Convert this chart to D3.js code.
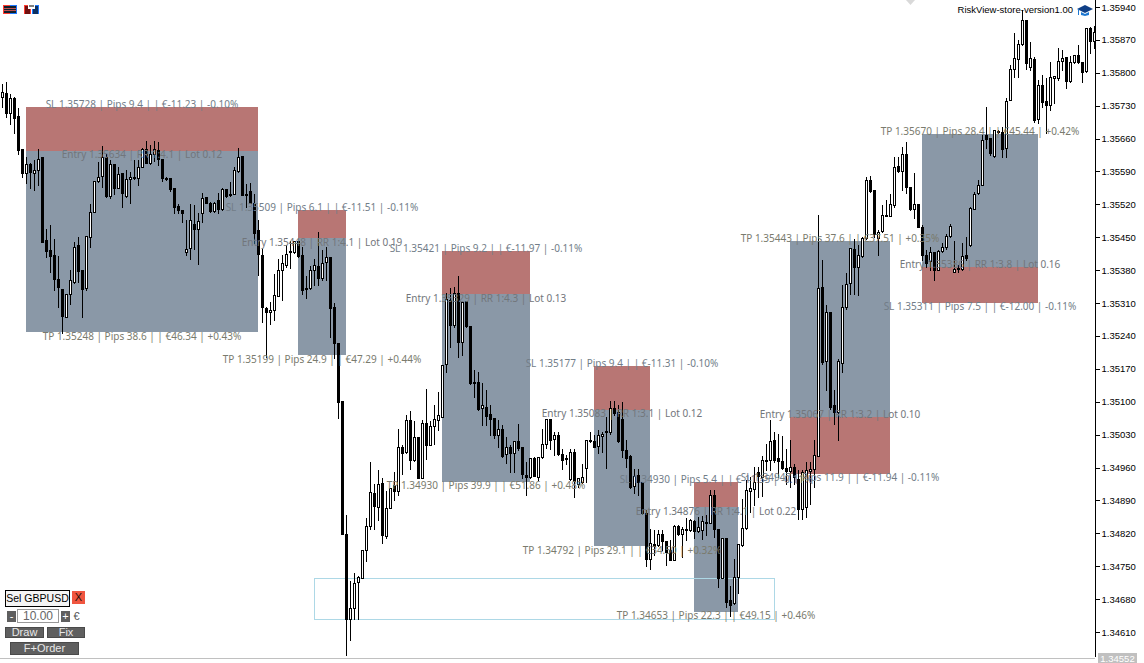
<!DOCTYPE html>
<html lang="en">
<head>
    <meta charset="UTF-8"/>
    <title>GBPUSD RiskView</title>
    <script src="https://d3js.org/d3.v7.min.js"></script>
    <style>
        html, body { margin: 0; padding: 0; background: #fff; overflow: hidden; }
        svg { display: block; }
        .axis text { font-family: "Liberation Sans", sans-serif; font-size: 9.5px; fill: #000; }
        .ui text { font-family: "Liberation Sans", sans-serif; text-anchor: middle; }
    </style>
</head>
<body>
<script>

    // candle prices, in points (135748 = 1.35748)
    const opens = [
        135748,135758,135715,135746,135708,135638,135587,135605,135587,135594,
        135621,135444,135423,135412,135362,135340,135281,135330,135355,135433,
        135380,135341,135451,135504,135570,135580,135620,135538,135606,135555,
        135586,135538,135575,135579,135577,135600,135637,135609,135628,135636,
        135616,135577,135577,135554,135516,135508,135419,135428,135478,135467,
        135502,135536,135523,135506,135529,135511,135552,135539,135543,135591,
        135623,135543,135548,135523,135465,135413,135300,135292,135296,135325,
        135380,135392,135421,135418,135441,135413,135342,135342,135381,135389,
        135363,135398,135409,135301,135224,135102,134819,134637,134662,134716,
        134725,134784,134836,134905,134876,134928,134814,134873,134922,134910,
        135003,134992,135062,134976,135024,134938,135054,135009,135049,135062,
        135068,135180,135317,135263,135331,135228,135315,135262,135143,135143,
        135086,135088,135074,135065,135029,135043,134988,135003,134990,135017,
        135003,134945,134940,134981,134940,134983,135011,135064,135020,135029,
        134988,134980,134935,134992,134926,134930,134959,135019,135016,135006,
        135027,135037,135035,135086,135079,135064,134997,134985,134920,134944,
        134929,134863,134766,134798,134795,134819,134803,134784,134763,134835,
        134819,134830,134827,134846,134825,134827,134844,134842,134902,134830,
        134725,134810,134678,134672,134727,134796,134832,134910,134915,134951,
        134940,134977,134976,135018,134981,134974,134959,134952,134962,134936,
        134872,134877,134952,134957,134984,135344,135187,135290,135092,135079,
        135183,135302,135353,135426,135387,135410,135449,135571,135550,135449,
        135463,135497,135495,135518,135601,135591,135627,135557,135510,135520,
        135472,135412,135399,135419,135381,135420,135429,135452,135377,135384,
        135383,135412,135433,135511,135545,135562,135668,135661,135623,135676,
        135674,135640,135742,135808,135829,135861,135912,135812,135829,135702,
        135774,135740,135732,135789,135789,135825,135834,135783,135823,135838,
        135823,135804,135895,135868
    ];
    const highs = [
        135776,135780,135755,135749,135726,135638,135621,135607,135614,135637,
        135621,135467,135476,135447,135410,135340,135330,135380,135440,135451,
        135380,135452,135520,135570,135611,135644,135628,135614,135606,135600,
        135587,135593,135589,135614,135614,135639,135655,135646,135655,135653,
        135616,135578,135577,135554,135520,135508,135486,135520,135518,135501,
        135545,135536,135526,135526,135545,135554,135552,135568,135600,135641,
        135623,135563,135565,135543,135486,135426,135302,135313,135371,135403,
        135412,135433,135441,135441,135441,135430,135368,135389,135404,135461,
        135423,135429,135409,135310,135226,135102,134858,134718,134736,134729,
        134785,134853,134971,134924,134954,134937,134910,134917,134951,135041,
        135008,135071,135081,135059,135025,135062,135128,135059,135093,135121,
        135178,135331,135343,135345,135368,135313,135315,135262,135168,135164,
        135139,135125,135093,135065,135061,135050,135026,135008,135017,135052,
        135004,134972,134981,134982,134983,135041,135064,135064,135036,135036,
        135000,134986,135000,135000,134937,134968,135018,135036,135029,135040,
        135036,135068,135102,135101,135093,135100,135018,134986,134956,134956,
        134929,134869,134830,134826,134826,134826,134803,134805,134837,134837,
        134834,134853,134851,134848,134855,134856,134858,134912,134912,134830,
        134810,134810,134707,134765,134797,134894,134933,134940,134961,134961,
        134984,135011,135061,135035,135032,135028,135000,135018,134968,134954,
        134954,134972,134972,135018,135497,135401,135305,135290,135126,135192,
        135348,135373,135428,135447,135433,135451,135579,135580,135550,135465,
        135518,135529,135543,135621,135621,135642,135653,135557,135586,135520,
        135476,135422,135430,135419,135422,135437,135456,135478,135442,135390,
        135437,135451,135515,135547,135571,135667,135727,135662,135678,135678,
        135685,135746,135817,135885,135870,135934,135912,135866,135834,135785,
        135795,135789,135823,135793,135853,135849,135834,135836,135838,135859,
        135823,135895,135898,135900
    ];
    const lows = [
        135728,135705,135692,135672,135628,135579,135565,135554,135550,135561,
        135440,135407,135376,135337,135302,135247,135281,135309,135352,135355,
        135281,135337,135430,135504,135568,135557,135536,135533,135543,135554,
        135515,135536,135523,135575,135561,135599,135607,135605,135613,135604,
        135570,135572,135549,135502,135501,135483,135412,135403,135426,135394,
        135483,135522,135504,135504,135501,135508,135536,135538,135542,135589,
        135540,135515,135522,135437,135369,135270,135195,135266,135273,135325,
        135316,135387,135384,135417,135409,135330,135320,135340,135349,135349,
        135359,135359,135237,135194,135066,134819,134560,134592,134637,134637,
        134725,134761,134829,134829,134849,134800,134811,134873,134890,134901,
        134947,134990,134956,134974,134937,134937,134979,135008,135011,135039,
        135068,135164,135217,135260,135196,135200,135260,135138,135111,135082,
        135050,135050,135029,135022,135004,134983,134969,134951,134951,134997,
        134937,134902,134938,134941,134933,134981,135002,135000,134986,134986,
        134956,134968,134933,134897,134919,134927,134930,135015,135004,134991,
        134993,134960,135032,135071,135015,134983,134961,134917,134905,134901,
        134862,134750,134745,134773,134793,134784,134752,134763,134763,134817,
        134770,134805,134825,134809,134823,134807,134816,134841,134812,134706,
        134724,134663,134643,134670,134693,134794,134830,134866,134880,134897,
        134899,134954,134954,134972,134940,134957,134925,134918,134925,134851,
        134851,134854,134883,134918,134984,135181,135124,135085,135053,135018,
        135163,135298,135330,135330,135327,135408,135447,135547,135451,135412,
        135461,135495,135495,135515,135589,135550,135545,135508,135490,135471,
        135401,135387,135380,135358,135380,135419,135426,135451,135376,135376,
        135380,135402,135431,135510,135543,135561,135640,135625,135621,135672,
        135621,135621,135742,135791,135791,135859,135808,135806,135695,135693,
        135727,135672,135721,135736,135785,135806,135768,135781,135821,135821,
        135781,135802,135842,135853
    ];
    const closes = [
        135760,135715,135746,135704,135636,135587,135605,135589,135594,135616,
        135440,135421,135411,135361,135344,135283,135330,135359,135430,135379,
        135340,135452,135504,135570,135579,135621,135538,135605,135555,135584,
        135545,135575,135579,135578,135599,135637,135609,135628,135637,135616,
        135577,135576,135553,135515,135508,135502,135426,135486,135467,135484,
        135533,135523,135506,135523,135510,135552,135538,135543,135593,135621,
        135541,135540,135523,135459,135415,135302,135291,135296,135327,135380,
        135396,135415,135418,135441,135411,135338,135341,135381,135390,135363,
        135395,135408,135299,135224,135100,134819,134637,134662,134715,134726,
        134785,134836,134907,134878,134924,134817,134873,134917,134910,135003,
        134991,135062,134976,135024,134938,135054,135009,135048,135064,135071,
        135178,135318,135263,135331,135228,135313,135262,135139,135141,135085,
        135092,135070,135064,135029,135043,134985,135004,134991,135017,135001,
        134946,134940,134981,134942,134983,135011,135064,135018,135029,134988,
        134976,134979,134992,134931,134937,134939,135018,135018,135004,135029,
        135032,135035,135086,135075,135016,134998,134981,134919,134942,134929,
        134863,134766,134800,134793,134819,134803,134780,134764,134835,134819,
        134830,134829,134848,134825,134834,134846,134843,134902,134830,134724,
        134810,134674,134667,134727,134797,134831,134912,134917,134929,134942,
        134976,134975,135017,134975,134974,134959,134952,134962,134940,134872,
        134950,134954,134957,134986,135341,135185,135290,135089,135079,135186,
        135302,135351,135428,135387,135413,135449,135571,135548,135456,135461,
        135497,135496,135520,135600,135591,135627,135557,135510,135520,135472,
        135412,135395,135419,135380,135420,135429,135452,135474,135383,135383,
        135410,135405,135513,135543,135562,135657,135659,135629,135678,135674,
        135638,135740,135808,135832,135861,135912,135821,135832,135700,135774,
        135738,135732,135791,135793,135825,135832,135783,135823,135838,135823,
        135802,135895,135868,135887
    ];

    // price axis
    const axisTicks = [135940,135870,135800,135730,135660,135590,135520,135450,135380,135310,
        135240,135170,135100,135030,134960,134890,134820,134750,134680,134610];
    const lastPrice = "1.34552";

    // the seven risk boxes: start / end candle, stop, entry, target
    const tradeStart = [6, 74, 110, 148, 173, 197, 230];
    const tradeEnd = [64, 86, 132, 162, 184, 222, 259];
    const slPrices = [135728, 135509, 135421, 135177, 134930, 134947, 135311];
    const entryPrices = [135634, 135448, 135329, 135083, 134876, 135067, 135386];
    const tpPrices = [135248, 135199, 134930, 134792, 134653, 135443, 135670];
    const slLabels = [
        "SL 1.35728 | Pips 9.4 |  | €-11.23 | -0.10%",
        "SL 1.35509 | Pips 6.1 |  | €-11.51 | -0.11%",
        "SL 1.35421 | Pips 9.2 |  | €-11.97 | -0.11%",
        "SL 1.35177 | Pips 9.4 |  | €-11.31 | -0.10%",
        "SL 1.34930 | Pips 5.4 |  | €-11.35 | -0.11%",
        "SL 1.34947 | Pips 11.9 |  | €-11.94 | -0.11%",
        "SL 1.35311 | Pips 7.5 |  | €-12.00 | -0.11%"
    ];
    const entryLabels = [
        "Entry 1.35634 | RR 1:4.1 | Lot 0.12",
        "Entry 1.35448 | RR 1:4.1 | Lot 0.19",
        "Entry 1.35329 | RR 1:4.3 | Lot 0.13",
        "Entry 1.35083 | RR 1:3.1 | Lot 0.12",
        "Entry 1.34876 | RR 1:4.1 | Lot 0.22",
        "Entry 1.35067 | RR 1:3.2 | Lot 0.10",
        "Entry 1.35386 | RR 1:3.8 | Lot 0.16"
    ];
    const tpLabels = [
        "TP 1.35248 | Pips 38.6 |  | €46.34 | +0.43%",
        "TP 1.35199 | Pips 24.9 |  | €47.29 | +0.44%",
        "TP 1.34930 | Pips 39.9 |  | €51.86 | +0.48%",
        "TP 1.34792 | Pips 29.1 |  | €34.50 | +0.32%",
        "TP 1.34653 | Pips 22.3 |  | €49.15 | +0.46%",
        "TP 1.35443 | Pips 37.6 |  | €37.51 | +0.35%",
        "TP 1.35670 | Pips 28.4 |  | €45.44 | +0.42%"
    ];

    // outline box near the bottom
    const zoneStart = 78, zoneEnd = 193, zoneTop = 134725, zoneBottom = 134638;

    const width = 1144, height = 663;

    const svg = d3.select("body").append("svg")
        .attr("width", width)
        .attr("height", height);

    const x = d3.scaleLinear().domain([0, 273]).range([2.5, 1094.5]);
    const y = d3.scaleLinear().domain([134610, 135940]).range([632, 7]);
    const edge = i => x(i) - 0.5;
    const py = v => Math.round(y(v));

    // boxes first, the candles sit on top of them
    const boxes = svg.append("g").attr("shape-rendering", "crispEdges");
    tradeStart.forEach((s, i) => {
        const e = tradeEnd[i];
        const [top, bottom] = [slPrices[i], tpPrices[i]].sort(d3.descending);
        boxes.append("rect")
            .attr("x", edge(s)).attr("width", edge(e) - edge(s))
            .attr("y", py(top)).attr("height", py(bottom) - py(top))
            .attr("fill", "#8a98a7");
        const [rTop, rBottom] = [slPrices[i], entryPrices[i]].sort(d3.descending);
        boxes.append("rect")
            .attr("x", edge(s)).attr("width", edge(e) - edge(s))
            .attr("y", py(rTop)).attr("height", py(rBottom) - py(rTop))
            .attr("fill", "#b87674");
    });

    boxes.append("rect")
        .attr("x", edge(zoneStart) + 0.5).attr("width", edge(zoneEnd) - edge(zoneStart))
        .attr("y", py(zoneTop) + 0.5).attr("height", py(zoneBottom) - py(zoneTop))
        .attr("fill", "none")
        .attr("stroke", "#add8e6");

    // candles
    const candles = svg.append("g").attr("shape-rendering", "crispEdges")
        .selectAll("g")
        .data(opens.map((o, i) => ({i, o, h: highs[i], l: lows[i], c: closes[i]})))
        .join("g");

    candles.append("line")
        .attr("x1", d => x(d.i)).attr("x2", d => x(d.i))
        .attr("y1", d => py(d.h)).attr("y2", d => py(d.l) + 1)
        .attr("stroke", "#000");

    candles.filter(d => d.c < d.o).append("rect")
        .attr("x", d => x(d.i) - 1.5).attr("width", 3)
        .attr("y", d => py(d.o))
        .attr("height", d => Math.max(1, py(d.c) - py(d.o)) + 1)
        .attr("fill", "#000");

    candles.filter(d => d.c >= d.o).append("rect")
        .attr("x", d => x(d.i) - 1).attr("width", 2)
        .attr("y", d => py(d.c) + 0.5)
        .attr("height", d => Math.max(1, py(d.o) - py(d.c)))
        .attr("fill", "#fff")
        .attr("stroke", "#000");

    // labels, short trades have the stop above the box and long ones below
    const labels = svg.append("g")
        .style("font-family", "'Noto Sans', sans-serif")
        .style("font-size", "10px")
        .style("text-anchor", "middle");
    const addLabel = (i, price, off, txt, col) => labels.append("text")
        .attr("x", (edge(tradeStart[i]) + edge(tradeEnd[i])) / 2)
        .attr("y", y(price) + off + 4)
        .style("fill", col)
        .text(txt);
    tradeStart.forEach((s, i) => {
        const isShort = slPrices[i] > tpPrices[i];
        addLabel(i, slPrices[i], isShort ? -3 : 3.5, slLabels[i], "#727d88");
        addLabel(i, entryPrices[i], isShort ? 3.5 : -3, entryLabels[i], "#72767b");
        addLabel(i, tpPrices[i], isShort ? 3.5 : -3, tpLabels[i], "#7a7b6e");
    });

    // price axis
    const axis = svg.append("g")
        .attr("class", "axis")
        .attr("transform", "translate(1095.5,0)")
        .call(d3.axisRight(y)
            .tickValues(axisTicks)
            .tickSize(4)
            .tickPadding(2)
            .tickFormat(d => (d / 100000).toFixed(5)));
    axis.select(".domain").remove();
    axis.selectAll("line").attr("shape-rendering", "crispEdges").attr("stroke", "#000");
    axis.append("line")
        .attr("y1", 0).attr("y2", 657)
        .attr("stroke", "#000")
        .attr("shape-rendering", "crispEdges");

    svg.append("line")
        .attr("x1", 0).attr("x2", 1095).attr("y1", 658.5).attr("y2", 658.5)
        .attr("stroke", "#c0c0c0");
    svg.append("rect")
        .attr("x", 1098).attr("y", 653).attr("width", 39).attr("height", 10)
        .attr("fill", "#c0c0c0");
    svg.append("text")
        .attr("x", 1117.5).attr("y", 662)
        .style("font-family", "'Liberation Sans', sans-serif")
        .style("font-size", "9.5px")
        .style("text-anchor", "middle")
        .style("fill", "#fff")
        .text(lastPrice);

    // header text and little icons
    svg.append("text")
        .attr("x", 1073).attr("y", 13)
        .style("font-family", "'Liberation Sans', sans-serif")
        .style("font-size", "9.5px")
        .style("text-anchor", "end")
        .style("fill", "#000")
        .text("RiskView-store-version1.00");

    const cap = svg.append("g");
    cap.append("path").attr("d", "M1077 9 L1085 5 L1093 9 L1085 13 Z").attr("fill", "#0f3f86");
    cap.append("path").attr("d", "M1081 12 L1085 14 L1089 12 L1089 15 L1085 16 L1081 15 Z").attr("fill", "#1e78d2");
    cap.append("line").attr("x1", 1078.5).attr("x2", 1078.5).attr("y1", 9).attr("y2", 15).attr("stroke", "#1e78d2");

    svg.append("path").attr("d", "M906 0 L915 0 L910.5 5 Z").attr("fill", "#d9d9d9");

    const icons = svg.append("g").attr("shape-rendering", "crispEdges");
    icons.append("rect").attr("x", 3).attr("y", 5).attr("width", 7).attr("height", 9).attr("fill", "#ff3b30");
    icons.append("rect").attr("x", 10).attr("y", 5).attr("width", 7).attr("height", 9).attr("fill", "#1e78ff");
    icons.append("rect").attr("x", 4).attr("y", 6).attr("width", 12).attr("height", 7).attr("fill", "#10202c");
    [8, 10].forEach(v => icons.append("rect").attr("x", 4).attr("y", v).attr("width", 12).attr("height", 1).attr("fill", "#c05050"));
    icons.append("rect").attr("x", 24).attr("y", 5).attr("width", 7).attr("height", 9).attr("fill", "#ff3b30");
    icons.append("rect").attr("x", 32).attr("y", 5).attr("width", 7).attr("height", 9).attr("fill", "#1e78ff");
    icons.append("rect").attr("x", 25).attr("y", 6).attr("width", 5).attr("height", 8).attr("fill", "#701010");
    icons.append("rect").attr("x", 33).attr("y", 6).attr("width", 5).attr("height", 8).attr("fill", "#0d3060");
    icons.append("rect").attr("x", 28).attr("y", 4).attr("width", 7).attr("height", 5).attr("fill", "#fff");
    icons.append("rect").attr("x", 29).attr("y", 5).attr("width", 5).attr("height", 2).attr("fill", "#808080");

    // panel bottom left
    const ui = svg.append("g").attr("class", "ui");
    const button = (bx, by, bw, bh, fill, stroke, txt, col, size) => {
        ui.append("rect")
            .attr("x", bx + 0.5).attr("y", by + 0.5)
            .attr("width", bw - 1).attr("height", bh - 1)
            .attr("fill", fill).attr("stroke", stroke)
            .attr("shape-rendering", "crispEdges");
        ui.append("text")
            .attr("x", bx + bw / 2).attr("y", by + bh / 2 + size * 0.36)
            .style("font-size", size + "px")
            .style("fill", col)
            .text(txt);
    };
    button(5, 590, 65, 17, "#f4f4f4", "#000", "Sel GBPUSD", "#000", 10.5);
    button(72, 591, 13, 13, "#f0553f", "#f0553f", "X", "#2a1008", 11);
    button(7, 611, 9, 11, "#5f5f5f", "#5f5f5f", "-", "#fff", 11);
    button(17, 609, 42, 14, "#fff", "#999", "10.00", "#666", 12);
    button(61, 611, 9, 11, "#5f5f5f", "#5f5f5f", "+", "#fff", 11);
    button(5, 627, 39, 11, "#5f5f5f", "#4a4a4a", "Draw", "#e8e8e8", 11);
    button(47, 627, 38, 11, "#5f5f5f", "#4a4a4a", "Fix", "#e8e8e8", 11);
    button(10, 642, 69, 13, "#5f5f5f", "#4a4a4a", "F+Order", "#e8e8e8", 11);
    ui.append("text")
        .attr("x", 76.5).attr("y", 620)
        .style("font-size", "11px")
        .style("fill", "#555")
        .text("€");

</script>
</body>
</html>
